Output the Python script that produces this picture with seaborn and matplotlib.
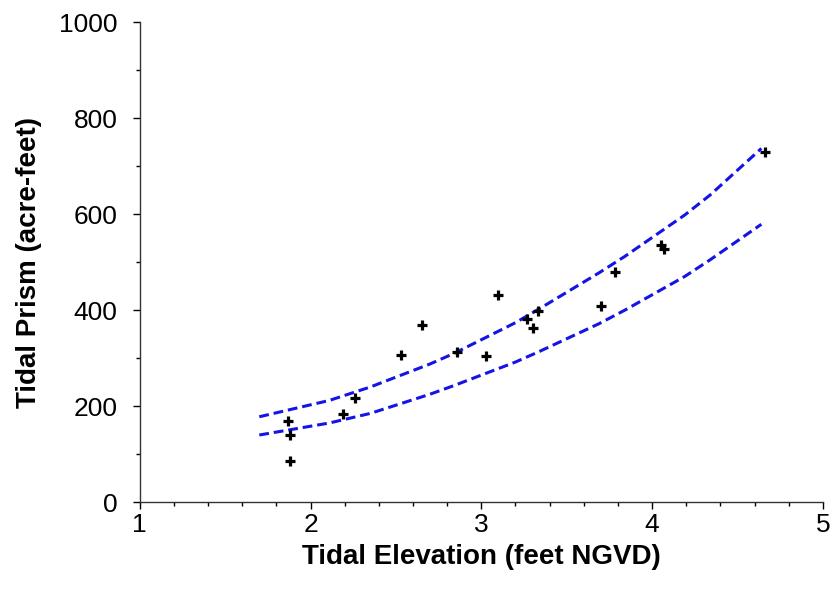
import matplotlib
matplotlib.use("Agg")
import matplotlib.pyplot as plt
from matplotlib.ticker import MultipleLocator
import seaborn as sns
import pandas as pd

# Observed tidal prism vs. tidal elevation
elevation = [1.87, 1.88, 1.88, 2.19, 2.26, 2.53, 2.65, 2.86, 3.03, 3.10,
             3.27, 3.30, 3.33, 3.70, 3.78, 4.05, 4.07, 4.66]
prism = [169, 140, 85, 183, 217, 306, 369, 312, 304, 431,
         381, 362, 398, 408, 479, 536, 527, 729]

# Envelope curves
curve_x = [1.70, 2.11, 2.35, 2.70, 2.84, 3.20, 3.34, 3.69, 3.84, 4.19, 4.34, 4.64]
upper_y = [178, 212, 240, 288, 310, 374, 403, 478, 512, 598, 640, 737]
lower_y = [140, 165, 185, 225, 243, 292, 314, 372, 400, 470, 505, 579]

points = pd.DataFrame({"elev": elevation, "prism": prism})
curves = pd.DataFrame({"elev": curve_x + curve_x,
                       "prism": upper_y + lower_y,
                       "bound": ["upper"] * len(curve_x) + ["lower"] * len(curve_x)})

sns.set_style("ticks")
plt.rcParams["font.family"] = ["Liberation Sans", "DejaVu Sans"]

fig = plt.figure(figsize=(8.32, 6.0), dpi=100)
ax = fig.add_axes([0.168, 0.163, 0.821, 0.800])

line_color = "#1414E6"
for name in ["upper", "lower"]:
    sns.lineplot(data=curves[curves["bound"] == name], x="elev", y="prism",
                 ax=ax, color=line_color, linewidth=2.2, sort=True,
                 estimator=None, linestyle=(0, (3.2, 1.6)))

sns.scatterplot(data=points, x="elev", y="prism", ax=ax, marker="+",
                color="black", s=55, linewidth=2.3, zorder=5)

ax.set_xlim(1, 5)
ax.set_ylim(0, 1000)
ax.xaxis.set_major_locator(MultipleLocator(1))
ax.xaxis.set_minor_locator(MultipleLocator(0.2))
ax.yaxis.set_major_locator(MultipleLocator(200))
ax.yaxis.set_minor_locator(MultipleLocator(100))
ax.tick_params(axis="both", which="major", direction="out", length=5,
               width=1, labelsize=19, colors="black")
ax.tick_params(axis="x", which="major", pad=3)
ax.tick_params(axis="y", which="major", pad=11)
ax.tick_params(axis="both", which="minor", direction="out", length=3,
               width=1, colors="black")

for side in ["top", "right"]:
    ax.spines[side].set_visible(False)
for side in ["left", "bottom"]:
    ax.spines[side].set_color("#333333")
    ax.spines[side].set_linewidth(1.0)

ax.set_xlabel("Tidal Elevation (feet NGVD)", fontsize=20, fontweight="bold",
              labelpad=5, color="black")
ax.set_ylabel("Tidal Prism (acre-feet)", fontsize=20, fontweight="bold",
              labelpad=12, color="black")

fig.savefig("out.png", dpi=100)
